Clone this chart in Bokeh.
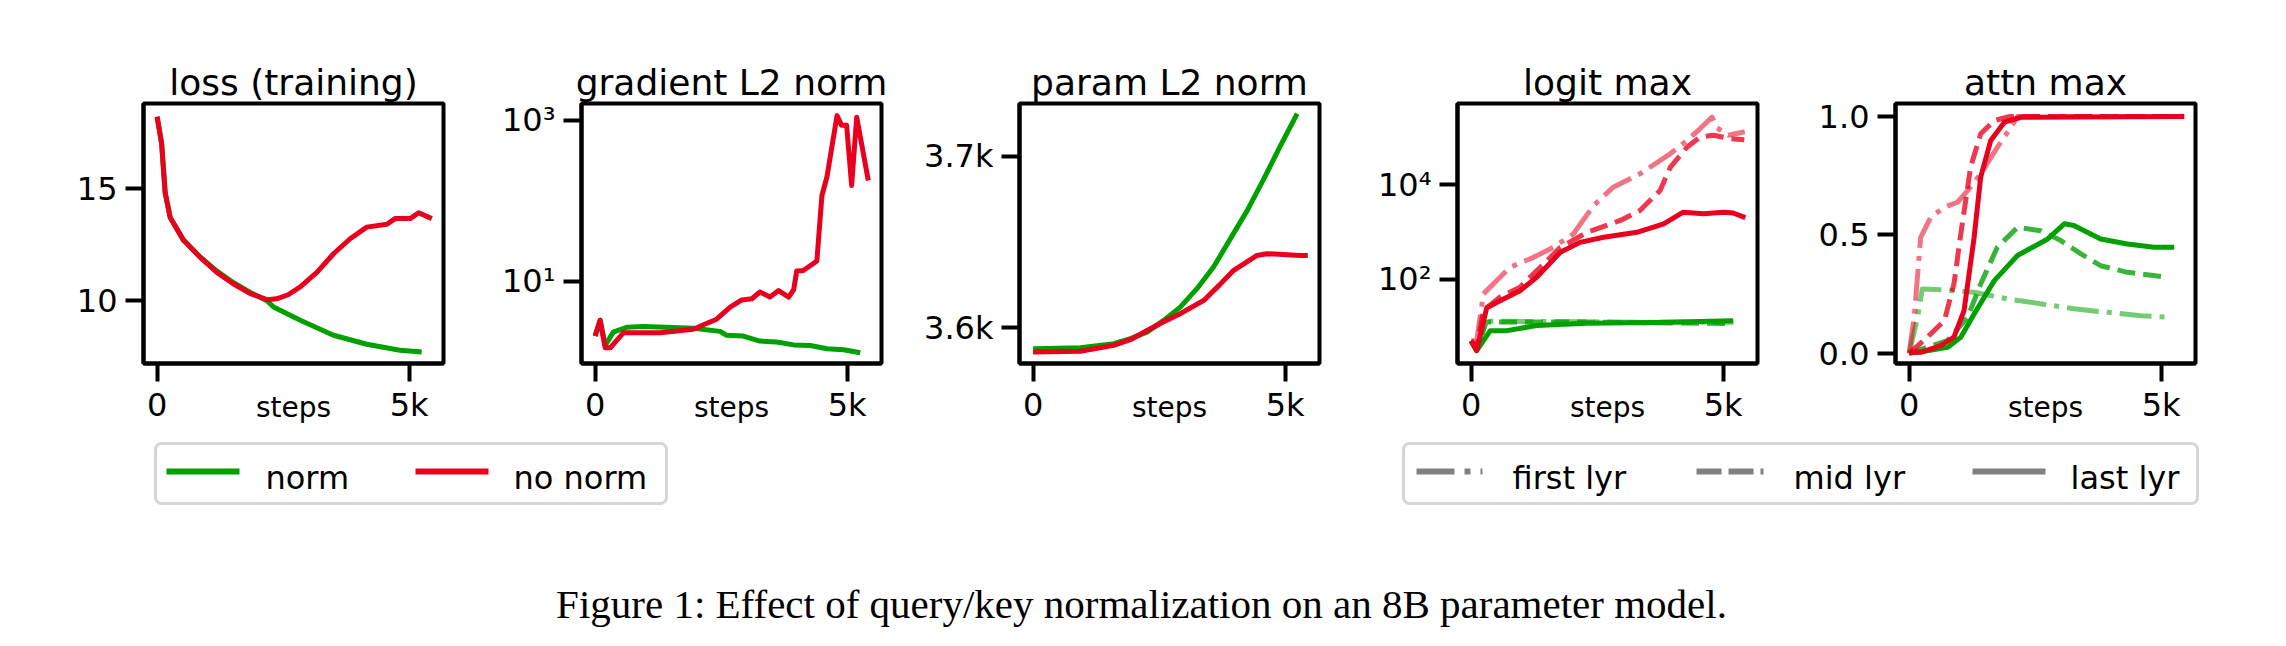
from bokeh.plotting import figure
from bokeh.models import Range1d, FixedTicker, Quad
from bokeh.layouts import row, column
from bokeh.embed import file_html
from bokeh.resources import INLINE
from bokeh.core.properties import value

# ---------------- data ----------------
GREEN = "#00a000"
RED = "#e8001e"

x_ticks = [0, 5000]
x_tick_labels = ["0", "5k"]

# loss (training)
loss_steps_norm = [0, 90, 160, 260, 520, 850, 1180, 1510, 1850, 2180, 2310, 2840, 3500, 4160, 4820, 5250]
loss_norm = [18.2, 17.0, 14.8, 13.7, 12.7, 11.95, 11.32, 10.8, 10.35, 9.98, 9.7, 9.11, 8.44, 8.04, 7.77, 7.69]
loss_steps_nonorm = [0, 90, 160, 260, 520, 850, 1180, 1510, 1850, 2180, 2370, 2600, 2840, 3170, 3500, 3830,
                     4160, 4560, 4720, 5020, 5190, 5450]
loss_nonorm = [18.2, 17.0, 14.8, 13.7, 12.7, 11.93, 11.26, 10.74, 10.3, 10.03, 10.07, 10.25, 10.6, 11.25,
               12.08, 12.75, 13.27, 13.4, 13.65, 13.65, 13.91, 13.65]
loss_ticks = [10, 15]
loss_tick_labels = ["10", "15"]

# gradient L2 norm
grad_steps_norm = [0, 100, 200, 360, 630, 960, 1950, 2480, 2610, 2940, 3270, 3600, 3940, 4270, 4600, 4930, 5260]
grad_norm = [2.1, 3.3, 1.6, 2.35, 2.7, 2.75, 2.62, 2.4, 2.14, 2.1, 1.82, 1.77, 1.63, 1.6, 1.46, 1.42, 1.30]
grad_steps_nonorm = [0, 100, 200, 300, 560, 1290, 1950, 2150, 2410, 2680, 2910, 3110, 3270, 3470, 3640, 3840,
                     3940, 4000, 4130, 4400, 4500, 4600, 4800, 4890, 4990, 5090, 5190, 5420]
grad_nonorm = [2.1, 3.3, 1.5, 1.5, 2.3, 2.3, 2.55, 2.9, 3.4, 4.8, 5.9, 6.1, 7.4, 6.4, 7.7, 6.4,
               7.9, 13.5, 13.7, 18, 117, 200, 1150, 870, 870, 156, 1100, 180]
grad_ticks = [10, 1000]
grad_tick_labels = ["10\u00b9", "10\u00b3"]

# param L2 norm
param_steps_norm = [0, 940, 1600, 1930, 2260, 2590, 2920, 3250, 3580, 3915, 4250, 4580, 4910, 5240]
param_norm = [3587.7, 3588.3, 3590.7, 3593.6, 3597.4, 3604.3, 3612.0, 3622.8, 3635.4, 3652.0, 3668.5,
              3687.0, 3706.4, 3725.0]
param_steps_nonorm = [0, 940, 1600, 1930, 2260, 2590, 2920, 3390, 3700, 3980, 4440, 4640, 5300, 5450]
param_nonorm = [3585.8, 3586.3, 3589.7, 3593.0, 3598.4, 3603.5, 3608.2, 3616.0, 3625.0, 3633.5, 3642.2,
                3643.2, 3642.2, 3642.2]
param_ticks = [3600, 3700]
param_tick_labels = ["3.6k", "3.7k"]

# logit max (first / mid / last layer)
logit_steps_norm_first = [0, 110, 300, 1300, 2300, 3620, 5200]
logit_norm_first = [5.0, 3.5, 13.0, 12.8, 12.6, 12.3, 12.3]
logit_steps_norm_mid = [0, 110, 300, 1300, 2300, 3620, 5200]
logit_norm_mid = [5.0, 3.3, 12.5, 12.5, 12.5, 12.0, 11.6]
logit_steps_norm_last = [0, 110, 380, 710, 1300, 2300, 3620, 5200]
logit_norm_last = [5.0, 3.1, 8.2, 8.2, 10.5, 11.7, 12.2, 13.3]
logit_steps_nonorm_first = [0, 110, 245, 510, 770, 1240, 1630, 2030, 2430, 2820, 3350, 3950, 4280, 4540,
                            4780, 4870, 5100, 5430]
logit_nonorm_first = [5.0, 5.0, 49, 94, 178, 290, 470, 910, 3600, 8800, 16800, 44500, 85000, 150000,
                      265000, 160000, 110000, 130000]
logit_steps_nonorm_mid = [0, 110, 245, 575, 970, 1300, 1770, 2300, 2960, 3350, 3750, 3950, 4280, 4540,
                          4810, 5140, 5420]
logit_nonorm_mid = [5.0, 3.5, 22, 42, 68, 150, 470, 980, 1740, 2820, 7500, 23000, 61000, 100000,
                    110000, 93000, 88000]
logit_steps_nonorm_last = [0, 110, 310, 575, 970, 1300, 1770, 2160, 2630, 3290, 3820, 4210, 4610, 5010,
                           5200, 5440]
logit_nonorm_last = [5.0, 3.1, 25, 35, 57, 110, 370, 600, 770, 980, 1470, 2600, 2400, 2600, 2500, 2000]
logit_ticks = [100, 10000]
logit_tick_labels = ["10\u00b2", "10\u2074"]

# attn max (first / mid / last layer)
attn_steps_norm_first = [0, 170, 260, 630, 1290, 1950, 2610, 3270, 3940, 4600, 5190]
attn_norm_first = [0.0, 0.152, 0.272, 0.268, 0.258, 0.23, 0.209, 0.188, 0.173, 0.159, 0.152]
attn_steps_norm_mid = [0, 760, 1160, 1420, 1750, 2150, 2610, 3010, 3410, 3800, 4330, 5130]
attn_norm_mid = [0.0, 0.054, 0.152, 0.293, 0.448, 0.532, 0.518, 0.476, 0.42, 0.37, 0.342, 0.321]
attn_steps_norm_last = [0, 360, 760, 1025, 1290, 1690, 2150, 2750, 3080, 3270, 3800, 4330, 4860, 5260]
attn_norm_last = [0.0, 0.011, 0.025, 0.068, 0.166, 0.307, 0.413, 0.483, 0.547, 0.54, 0.483, 0.462, 0.448, 0.448]
attn_steps_nonorm_first = [0, 100, 230, 430, 700, 960, 1160, 1420, 1750, 2020, 2150, 5450]
attn_nonorm_first = [0.0, 0.152, 0.49, 0.575, 0.617, 0.638, 0.687, 0.758, 0.87, 0.955, 1.0, 1.0]
attn_steps_nonorm_mid = [0, 360, 700, 890, 1025, 1220, 1420, 1690, 2000, 5450]
attn_nonorm_mid = [0.0, 0.068, 0.138, 0.293, 0.504, 0.786, 0.927, 0.983, 1.0, 1.0]
attn_steps_nonorm_last = [0, 230, 630, 890, 1090, 1290, 1420, 1620, 1890, 2220, 5460]
attn_nonorm_last = [0.004, 0.004, 0.033, 0.068, 0.18, 0.49, 0.744, 0.899, 0.976, 0.997, 1.0]
attn_ticks = [0.0, 0.5, 1.0]
attn_tick_labels = ["0.0", "0.5", "1.0"]

titles = ["loss (training)", "gradient L2 norm", "param L2 norm", "logit max", "attn max"]
x_label = "steps"
legend1_labels = ["norm", "no norm"]
legend2_labels = ["first lyr", "mid lyr", "last lyr"]
caption = "Figure 1: Effect of query/key normalization on an 8B parameter model."

# ---------------- styling ----------------
FONT = "DejaVu Sans"
LW = 5
DASH = {"first": "32 8 5 8", "mid": "18 8", "last": "solid"}
ALPHA = {"first": 0.55, "mid": 0.78, "last": 1.0}


def panel(title, ymin, ymax, ticks, labels, first=False, log=False):
    width = 453 if first else 438
    left = 143 if first else 128
    p = figure(width=width, height=440, x_range=Range1d(-270, 5682), y_range=Range1d(ymin, ymax),
               y_axis_type="log" if log else "linear", output_backend="svg", toolbar_location=None,
               min_border_left=left, min_border_right=10, min_border_top=103, min_border_bottom=77,
               title=title)
    p.title.align = "center"
    p.title.text_font = FONT
    p.title.text_font_size = "36px"
    p.title.text_font_style = "normal"
    p.title.text_color = "black"
    p.title.standoff = 2
    p.grid.visible = False
    p.outline_line_color = "black"
    p.outline_line_width = 4
    p.background_fill_color = "white"
    p.border_fill_color = "white"
    for ax in (p.xaxis[0], p.yaxis[0]):
        ax.axis_line_color = "black"
        ax.axis_line_width = 4
        ax.major_tick_line_width = 4
        ax.major_tick_line_color = "black"
        ax.major_tick_out = 18
        ax.major_tick_in = 0
        ax.minor_tick_line_color = None
        ax.major_label_text_font = FONT
        ax.major_label_text_font_size = "32px"
        ax.major_label_text_color = "black"
    xa = p.xaxis[0]
    xa.ticker = FixedTicker(ticks=x_ticks)
    xa.major_label_overrides = {t: s for t, s in zip(x_ticks, x_tick_labels)}
    xa.major_label_standoff = 4
    xa.axis_label = x_label
    xa.axis_label_text_font = FONT
    xa.axis_label_text_font_size = "28px"
    xa.axis_label_text_font_style = "normal"
    xa.axis_label_text_color = "black"
    xa.axis_label_standoff = -36
    ya = p.yaxis[0]
    ya.ticker = FixedTicker(ticks=ticks)
    ya.major_label_overrides = {t: s for t, s in zip(ticks, labels)}
    ya.major_label_standoff = 8
    return p


p1 = panel(titles[0], 7.18, 18.79, loss_ticks, loss_tick_labels, first=True)
p1.line(loss_steps_norm, loss_norm, line_color=GREEN, line_width=LW, line_join="round")
p1.line(loss_steps_nonorm, loss_nonorm, line_color=RED, line_width=LW, line_join="round")

p2 = panel(titles[1], 0.957, 1626, grad_ticks, grad_tick_labels, log=True)
p2.line(grad_steps_norm, grad_norm, line_color=GREEN, line_width=LW, line_join="round")
p2.line(grad_steps_nonorm, grad_nonorm, line_color=RED, line_width=LW, line_join="round")

p3 = panel(titles[2], 3579.1, 3730.9, param_ticks, param_tick_labels)
p3.line(param_steps_norm, param_norm, line_color=GREEN, line_width=LW, line_join="round")
p3.line(param_steps_nonorm, param_nonorm, line_color=RED, line_width=LW, line_join="round")

p4 = panel(titles[3], 1.66, 514000, logit_ticks, logit_tick_labels, log=True)
logit_series = [
    (GREEN, "first", logit_steps_norm_first, logit_norm_first),
    (GREEN, "mid", logit_steps_norm_mid, logit_norm_mid),
    (GREEN, "last", logit_steps_norm_last, logit_norm_last),
    (RED, "first", logit_steps_nonorm_first, logit_nonorm_first),
    (RED, "mid", logit_steps_nonorm_mid, logit_nonorm_mid),
    (RED, "last", logit_steps_nonorm_last, logit_nonorm_last),
]
for c, lyr, xs, ys in logit_series:
    p4.line(xs, ys, line_color=c, line_width=LW, line_alpha=ALPHA[lyr], line_dash=DASH[lyr],
            line_join="round")

p5 = panel(titles[4], -0.043, 1.055, attn_ticks, attn_tick_labels)
attn_series = [
    (GREEN, "first", attn_steps_norm_first, attn_norm_first),
    (GREEN, "mid", attn_steps_norm_mid, attn_norm_mid),
    (GREEN, "last", attn_steps_norm_last, attn_norm_last),
    (RED, "first", attn_steps_nonorm_first, attn_nonorm_first),
    (RED, "mid", attn_steps_nonorm_mid, attn_nonorm_mid),
    (RED, "last", attn_steps_nonorm_last, attn_nonorm_last),
]
for c, lyr, xs, ys in attn_series:
    p5.line(xs, ys, line_color=c, line_width=LW, line_alpha=ALPHA[lyr], line_dash=DASH[lyr],
            line_join="round")

# ---------------- legends + caption (pixel canvas) ----------------
b = figure(width=2286, height=206, x_range=Range1d(0, 2286), y_range=Range1d(646, 440),
           x_axis_location=None, y_axis_location=None, output_backend="svg", toolbar_location=None,
           min_border=0)
b.grid.visible = False
b.outline_line_color = None

box_kw = dict(fill_color="white", line_color="#d6d6d6", line_width=3)
if "border_radius" in Quad.properties():
    box_kw["border_radius"] = 6

# legend 1
b.quad(left=[155], right=[666], top=[443], bottom=[503], **box_kw)
for (x0, x1, tx), c, lab in zip([(166, 239, 265), (415, 488, 513)], [GREEN, RED], legend1_labels):
    b.line([x0, x1], [471, 471], line_color=c, line_width=6)
    b.text([tx], [477], text=[lab], text_font=value(FONT), text_font_size="32px",
           text_baseline="alphabetic", text_align="left", text_color="black")

# legend 2
b.quad(left=[1403], right=[2197], top=[443], bottom=[503], **box_kw)
leg2_dash = ["38 10 6 10", "25 7", "solid"]
for (x0, x1, tx), d, lab in zip([(1416, 1482, 1512), (1696, 1763, 1793), (1972, 2045, 2070)],
                                leg2_dash, legend2_labels):
    b.line([x0, x1], [471, 471], line_color="#808080", line_width=6, line_dash=d)
    b.text([tx], [477], text=[lab], text_font=value(FONT), text_font_size="32px",
           text_baseline="alphabetic", text_align="left", text_color="black")

b.text([1141], [603], text=[caption], text_font=value("Liberation Serif"), text_font_size="41px",
       text_baseline="alphabetic", text_align="center", text_color="black")

layout = column(row(p1, p2, p3, p4, p5), b)
open("out.html", "w").write(file_html(layout, INLINE))
